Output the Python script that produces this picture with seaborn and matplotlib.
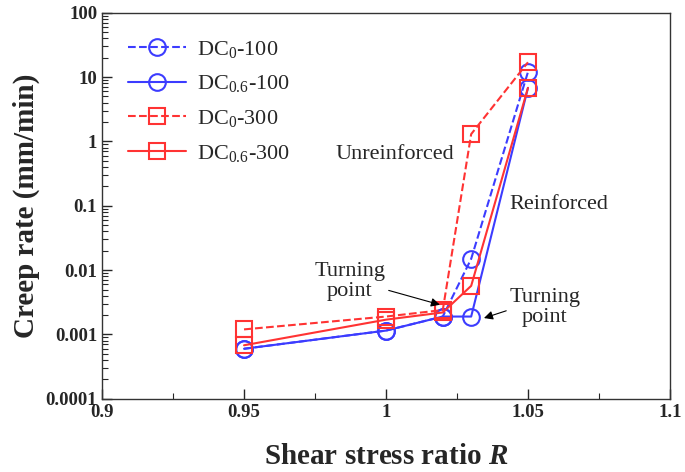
import numpy as np
import pandas as pd
import seaborn as sns
import matplotlib.pyplot as plt
from matplotlib.ticker import FixedLocator, NullFormatter, LogLocator

# Data
ratio = [0.95, 1.0, 1.02, 1.03, 1.05]
dc0_100 = [0.00060, 0.00115, 0.0019, 0.015, 12.0]
dc06_100 = [0.00060, 0.00115, 0.0019, 0.0019, 6.8]
dc0_300 = [0.0012, 0.0019, 0.0024, 1.3, 17.0]
dc06_300 = [0.00068, 0.0017, 0.0022, 0.0057, 6.8]

labels = [r"DC$_{0}$-100", r"DC$_{0.6}$-100", r"DC$_{0}$-300", r"DC$_{0.6}$-300"]
series = [dc0_100, dc06_100, dc0_300, dc06_300]

sns.set_style("ticks")
plt.rcParams["font.family"] = ["Liberation Serif", "DejaVu Serif"]
plt.rcParams["mathtext.fontset"] = "custom"
plt.rcParams["mathtext.rm"] = "Liberation Serif"
plt.rcParams["mathtext.it"] = "Liberation Serif:italic"
plt.rcParams["mathtext.bf"] = "Liberation Serif:bold"
plt.rcParams["mathtext.bfit"] = "Liberation Serif:italic:bold"

blue = "#3c3cff"
red = "#ff3333"
styles = [
    (blue, "--", "o"),
    (blue, "-", "o"),
    (red, "--", "s"),
    (red, "-", "s"),
]

fig = plt.figure(figsize=(6.85, 4.72), dpi=100)
ax = fig.add_axes([0.149, 0.155, 0.829, 0.818])

for lab, vals, (c, ls, m) in zip(labels, series, styles):
    df = pd.DataFrame({"R": ratio, "rate": vals})
    sns.lineplot(data=df, x="R", y="rate", ax=ax, color=c, linestyle=ls,
                 marker=m, markersize=12, markerfacecolor="none",
                 markeredgecolor=c, markeredgewidth=1.5, linewidth=1.5,
                 label=lab)

ax.set_yscale("log")
ax.set_xlim(0.9, 1.1)
ax.set_ylim(1e-4, 100)
ax.set_xticks([0.9, 0.95, 1.0, 1.05, 1.1])
ax.set_xticklabels(["0.9", "0.95", "1", "1.05", "1.1"])
ax.xaxis.set_minor_locator(FixedLocator([0.925, 0.975, 1.025, 1.075]))
ax.set_yticks([1e-4, 1e-3, 1e-2, 0.1, 1, 10, 100])
ax.set_yticklabels(["0.0001", "0.001", "0.01", "0.1", "1", "10", "100"])
ax.yaxis.set_minor_locator(LogLocator(base=10, subs=np.arange(2, 10), numticks=20))
ax.yaxis.set_minor_formatter(NullFormatter())
ax.tick_params(which="both", direction="in", top=False, right=False)
ax.tick_params(which="major", length=7, width=1, labelsize=13.5)
ax.tick_params(which="minor", length=4, width=0.8)
for t in ax.get_xticklabels() + ax.get_yticklabels():
    t.set_fontweight("bold")
for s in ax.spines.values():
    s.set_visible(True)
    s.set_linewidth(1.0)
    s.set_color("#333333")

ax.set_xlabel(r"Shear stress ratio $\mathbfit{R}$", fontsize=21, fontweight="bold", labelpad=16)
ax.set_ylabel("Creep rate (mm/min)", fontsize=21, fontweight="bold", labelpad=4)

ax.text(1.003, 0.62, "Unreinforced", fontsize=16, ha="center", va="center")
ax.text(1.061, 0.104, "Reinforced", fontsize=16, ha="center", va="center")
ax.annotate("Turning\npoint", xy=(1.019, 0.0029), xytext=(0.9873, 0.0066),
            fontsize=16, ha="center", va="center", linespacing=1.05,
            arrowprops=dict(arrowstyle="-|>", color="black", lw=0.8, mutation_scale=13,
                            shrinkA=0, shrinkB=0, relpos=(1.0, 0.3)))
ax.annotate("Turning\npoint", xy=(1.0345, 0.0018), xytext=(1.056, 0.0026),
            fontsize=16, ha="center", va="center", linespacing=1.05,
            arrowprops=dict(arrowstyle="-|>", color="black", lw=0.8, mutation_scale=13,
                            shrinkA=0, shrinkB=0, relpos=(0.0, 0.45)))

leg = ax.legend(loc="upper left", bbox_to_anchor=(0.01, 0.985), frameon=False,
                fontsize=16, handlelength=2.6, labelspacing=0.62, handletextpad=0.5)

fig.savefig("out.png", dpi=100)
